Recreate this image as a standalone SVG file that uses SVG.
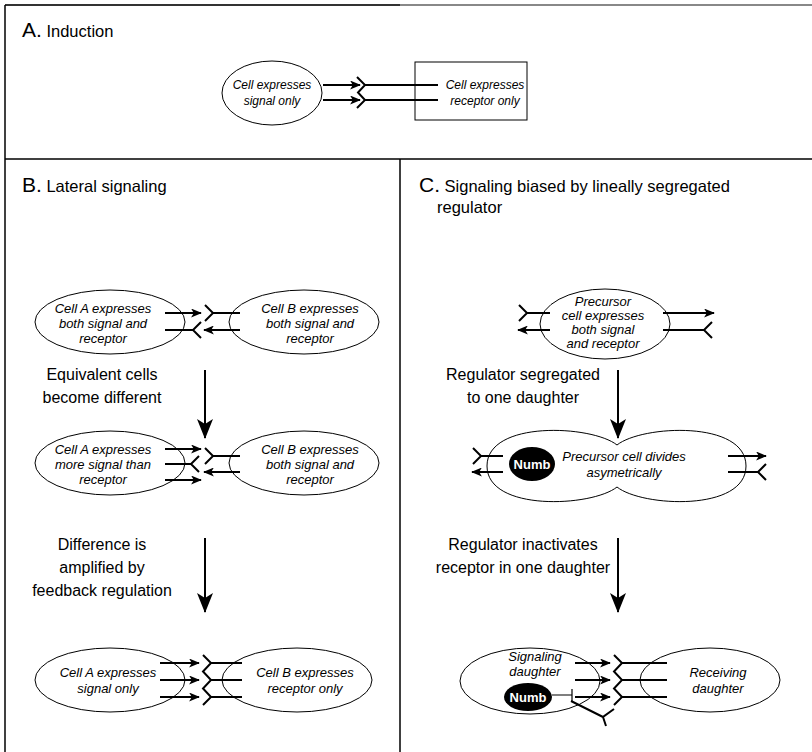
<svg xmlns="http://www.w3.org/2000/svg" width="812" height="752" viewBox="0 0 812 752">
<defs>
<style>
.cell{fill:#fff;stroke:#000;stroke-width:1}
.ct{font-family:"Liberation Sans",Arial,sans-serif;font-style:italic;font-size:13px;text-anchor:middle;fill:#000}
.cta{font-size:12px}
.lab{font-family:"Liberation Sans",Arial,sans-serif;font-size:16px;text-anchor:middle;fill:#000}
.ttl{font-family:"Liberation Sans",Arial,sans-serif;font-size:16.5px;fill:#000}
.big{font-size:21px}
.sig{fill:none;stroke:#000;stroke-width:2;marker-end:url(#ah)}
.rec{fill:none;stroke:#000;stroke-width:2}
.down{fill:none;stroke:#000;stroke-width:2;marker-end:url(#bh)}
.frame{fill:none;stroke:#000;stroke-width:1.5}
.numb{fill:#000}
.nt{font-family:"Liberation Sans",Arial,sans-serif;font-weight:bold;font-size:13px;text-anchor:middle;fill:#fff}
</style>
<marker id="ah" viewBox="0 0 12 10" refX="11" refY="5" markerWidth="12" markerHeight="9" markerUnits="userSpaceOnUse" orient="auto"><path d="M0,0 L12,5 L0,10 L3,5 z" fill="#000"/></marker>
<marker id="bh" viewBox="0 0 16 20" refX="8" refY="19" markerWidth="16" markerHeight="20" markerUnits="userSpaceOnUse" orient="0"><path d="M0,0 L8,5 L16,0 L8,20 z" fill="#000"/></marker>
</defs>
<rect width="812" height="752" fill="#fff"/>

<g id="frames">
<line x1="5" y1="5" x2="400" y2="5" stroke="#333" stroke-width="2"/>
<line x1="400" y1="5" x2="812" y2="5" stroke="#888" stroke-width="2"/>
<line x1="5" y1="5" x2="5" y2="752" class="frame"/>
<line x1="5" y1="159" x2="812" y2="159" class="frame"/>
<line x1="400" y1="159" x2="400" y2="752" class="frame"/>
</g>

<g id="titles">
<text x="22" y="37" class="ttl"><tspan class="big">A.</tspan> Induction</text>
<text x="22" y="192" class="ttl"><tspan class="big">B.</tspan> Lateral signaling</text>
<text x="419" y="192" class="ttl"><tspan class="big">C.</tspan> Signaling biased by lineally segregated</text>
<text x="437" y="213" class="ttl">regulator</text>
</g>

<!-- Panel A -->
<g id="a-sender">
<ellipse cx="272" cy="93" rx="50" ry="32" class="cell"/>
<text x="272" y="89" class="ct cta">Cell expresses</text>
<text x="272" y="105" class="ct cta">signal only</text>
</g>
<g id="a-receiver">
<rect x="415" y="62" width="112" height="58" class="cell"/>
<text x="485" y="89" class="ct cta">Cell expresses</text>
<text x="485" y="105" class="ct cta">receptor only</text>
</g>

<!-- Panel B -->
<g id="b1-cellA">
<ellipse cx="110" cy="322" rx="75" ry="32" class="cell"/>
<text x="103" y="313" class="ct">Cell A expresses</text>
<text x="103" y="328" class="ct">both signal and</text>
<text x="103" y="343" class="ct">receptor</text>
</g>
<g id="b1-cellB">
<ellipse cx="304" cy="322" rx="75" ry="32" class="cell"/>
<text x="310" y="313" class="ct">Cell B expresses</text>
<text x="310" y="328" class="ct">both signal and</text>
<text x="310" y="343" class="ct">receptor</text>
</g>
<g id="b2-cellA">
<ellipse cx="110" cy="463" rx="75" ry="32" class="cell"/>
<text x="103" y="454" class="ct">Cell A expresses</text>
<text x="103" y="469" class="ct">more signal than</text>
<text x="103" y="484" class="ct">receptor</text>
</g>
<g id="b2-cellB">
<ellipse cx="304" cy="463" rx="75" ry="32" class="cell"/>
<text x="310" y="454" class="ct">Cell B expresses</text>
<text x="310" y="469" class="ct">both signal and</text>
<text x="310" y="484" class="ct">receptor</text>
</g>
<g id="b3-cellA">
<ellipse cx="110" cy="680" rx="75" ry="32" class="cell"/>
<text x="108" y="677" class="ct">Cell A expresses</text>
<text x="108" y="693" class="ct">signal only</text>
</g>
<g id="b3-cellB">
<ellipse cx="297" cy="680" rx="75" ry="32" class="cell"/>
<text x="305" y="677" class="ct">Cell B expresses</text>
<text x="305" y="693" class="ct">receptor only</text>
</g>
<g id="b-labels">
<text x="102" y="380" class="lab">Equivalent cells</text>
<text x="102" y="403" class="lab">become different</text>
<text x="102" y="550" class="lab">Difference is</text>
<text x="102" y="573" class="lab">amplified by</text>
<text x="102" y="596" class="lab">feedback regulation</text>
</g>

<!-- Panel C -->
<g id="c1-precursor">
<ellipse cx="605" cy="324" rx="65" ry="35" class="cell"/>
<text x="603" y="306" class="ct">Precursor</text>
<text x="603" y="320" class="ct">cell expresses</text>
<text x="603" y="334" class="ct">both signal</text>
<text x="603" y="348" class="ct">and receptor</text>
</g>
<g id="c2-dividing">
<path d="M617,445 C592,425 487,420 487,466 C487,512 592,507 617,487 C642,507 746,512 746,466 C746,420 642,425 617,445 Z" class="cell"/>
<ellipse cx="532" cy="464" rx="23" ry="17" class="numb"/>
<text x="532" y="469" class="nt">Numb</text>
<text x="624" y="461" class="ct">Precursor cell divides</text>
<text x="624" y="477" class="ct">asymetrically</text>
</g>
<g id="c3-signaling">
<ellipse cx="530" cy="681" rx="70" ry="33" class="cell"/>
<text x="535" y="661" class="ct">Signaling</text>
<text x="535" y="676" class="ct">daughter</text>
<ellipse cx="528" cy="697" rx="24" ry="14" class="numb"/>
<text x="528" y="702" class="nt">Numb</text>
</g>
<g id="c3-receiving">
<ellipse cx="710" cy="680" rx="70" ry="32" class="cell"/>
<text x="718" y="677" class="ct">Receiving</text>
<text x="718" y="693" class="ct">daughter</text>
</g>
<g id="c-labels">
<text x="523" y="380" class="lab">Regulator segregated</text>
<text x="523" y="403" class="lab">to one daughter</text>
<text x="523" y="550" class="lab">Regulator inactivates</text>
<text x="523" y="573" class="lab">receptor in one daughter</text>
</g>

<g id="connectors">
<!-- A -->
<line x1="323" y1="85" x2="360" y2="85" class="sig"/>
<line x1="323" y1="100" x2="360" y2="100" class="sig"/>
<path d="M357,77 L365,85 L358,92.5 L365,100 L357,108" class="rec"/>
<path d="M365,85 H438 M365,100 H438" class="rec"/>

<!-- B row 1 -->
<line x1="165" y1="313" x2="201" y2="313" class="sig"/>
<path d="M165,330 H193 M201,322 L193,330 L201,338" class="rec"/>
<path d="M240,313 H213 M205,305 L213,313 L205,321" class="rec"/>
<line x1="240" y1="330" x2="204" y2="330" class="sig"/>

<!-- B row 2 -->
<line x1="165" y1="449" x2="201" y2="449" class="sig"/>
<path d="M165,464 H191 M199,456 L191,464 L199,472" class="rec"/>
<line x1="165" y1="480" x2="201" y2="480" class="sig"/>
<path d="M240,456 H213 M205,448 L213,456 L205,464" class="rec"/>
<line x1="240" y1="472" x2="204" y2="472" class="sig"/>

<!-- B row 3 -->
<line x1="160" y1="663" x2="199" y2="663" class="sig"/>
<line x1="160" y1="680" x2="199" y2="680" class="sig"/>
<line x1="160" y1="697" x2="199" y2="697" class="sig"/>
<path d="M203,655 L211,663 L203,671.5 L211,680 L203,688.5 L211,697 L203,705" class="rec"/>
<path d="M211,663 H242 M211,680 H242 M211,697 H242" class="rec"/>

<!-- B down arrows -->
<line x1="205" y1="370" x2="205" y2="438" class="down"/>
<line x1="205" y1="538" x2="205" y2="612" class="down"/>

<!-- C row 1 -->
<path d="M550,313 H527 M519,305 L527,313 L519,321" class="rec"/>
<line x1="550" y1="330" x2="518" y2="330" class="sig"/>
<line x1="663" y1="313" x2="714" y2="313" class="sig"/>
<path d="M663,330 H704 M712,322 L704,330 L712,338" class="rec"/>

<!-- C row 2 -->
<path d="M503,456 H481 M473,448 L481,456 L473,464" class="rec"/>
<line x1="503" y1="472" x2="472" y2="472" class="sig"/>
<line x1="728" y1="456" x2="766" y2="456" class="sig"/>
<path d="M728,472 H758 M766,464 L758,472 L766,480" class="rec"/>

<!-- C down arrows -->
<line x1="618" y1="370" x2="618" y2="438" class="down"/>
<line x1="618" y1="538" x2="618" y2="612" class="down"/>

<!-- C row 3 -->
<line x1="575" y1="663" x2="610" y2="663" class="sig"/>
<line x1="575" y1="680" x2="610" y2="680" class="sig"/>
<line x1="575" y1="697" x2="610" y2="697" class="sig"/>
<path d="M614,655 L622,663 L614,671.5 L622,680 L614,688.5 L622,697 L614,705" class="rec"/>
<path d="M622,663 H667 M622,680 H667 M622,697 H667" class="rec"/>
<path d="M552,695 H572 M572,689 V701" fill="none" stroke="#000" stroke-width="1.2"/>
<path d="M571,701 L603,717 M614,709 L603,717 L606,726" class="rec"/>
</g>
</svg>
